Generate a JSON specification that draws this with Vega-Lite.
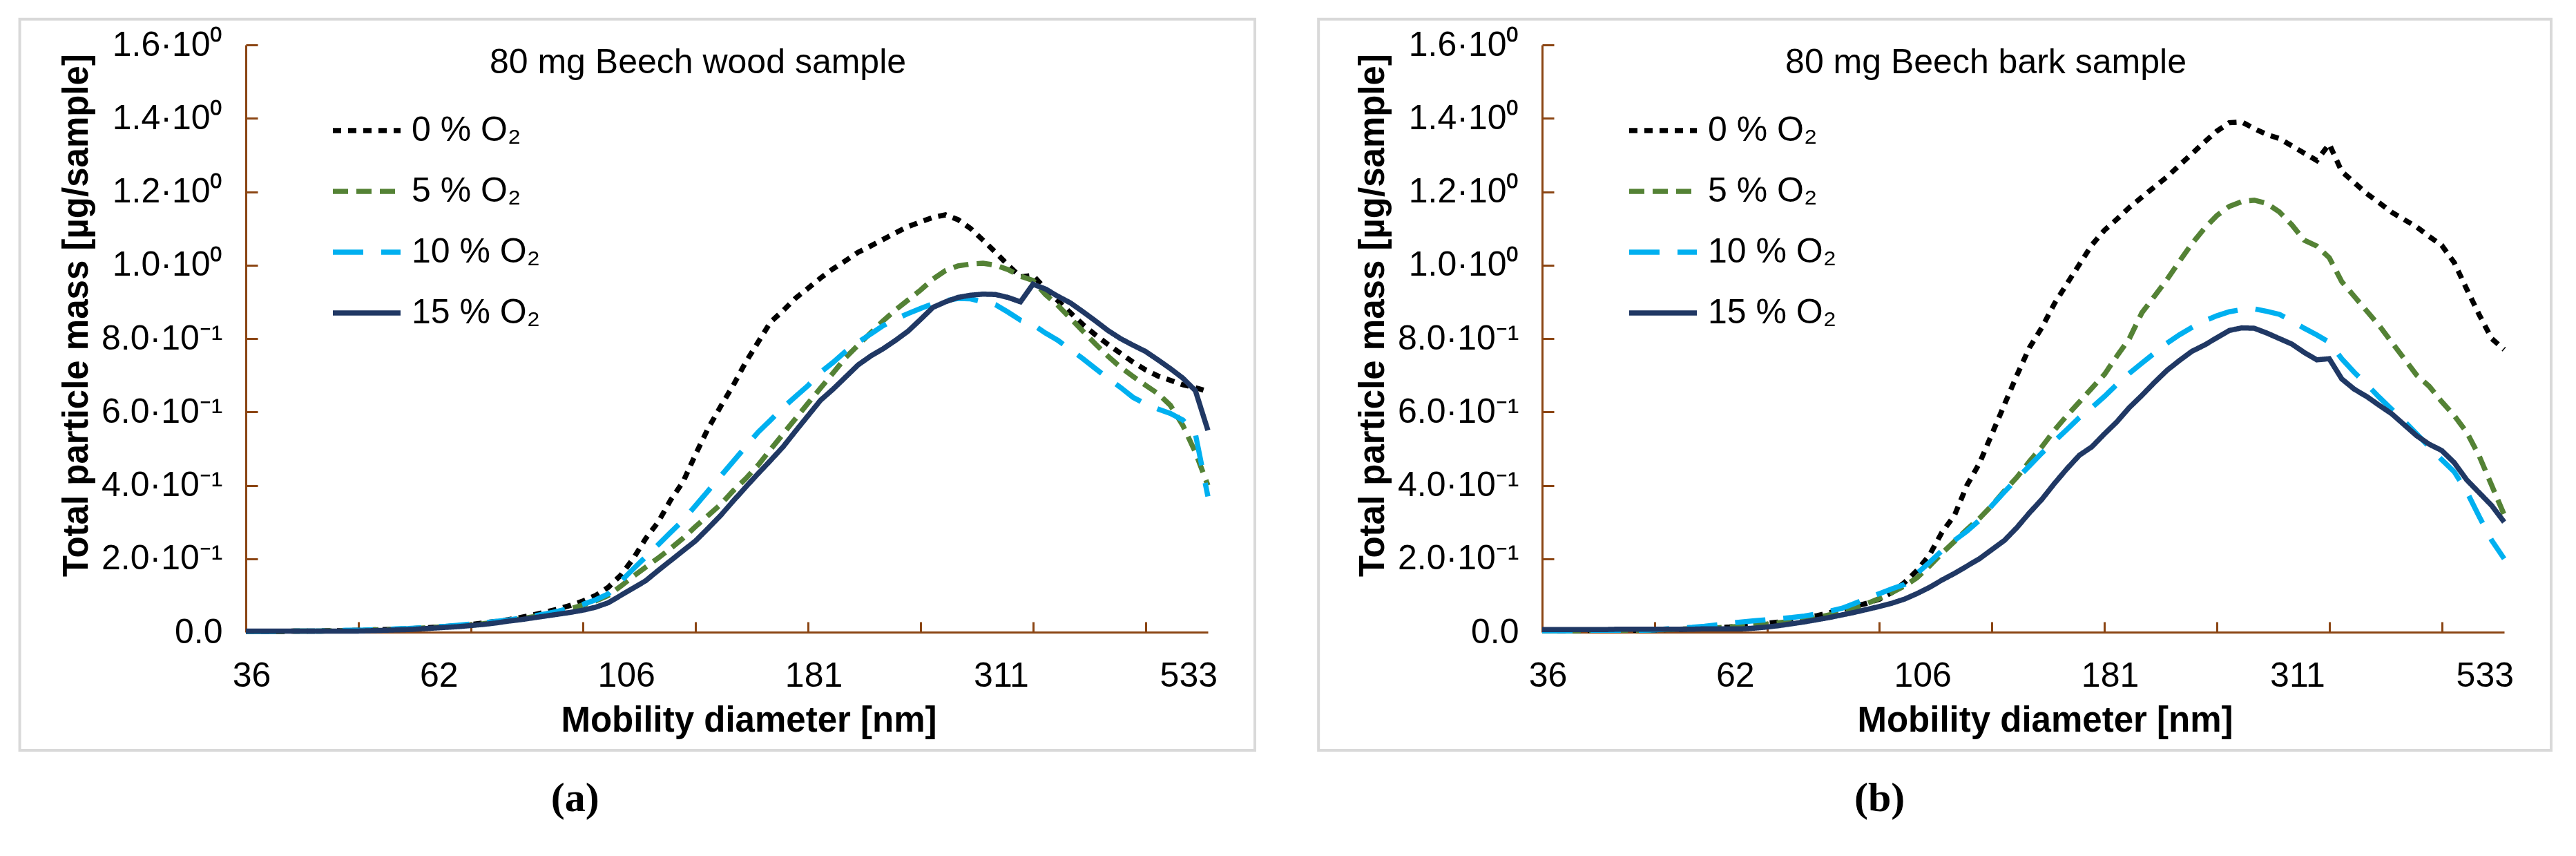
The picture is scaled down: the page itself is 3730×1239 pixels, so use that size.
{
  "$schema": "https://vega.github.io/schema/vega-lite/v6.json",
  "background": "white",
  "padding": {"left": 26, "top": 25, "right": 0, "bottom": 0},
  "config": {
    "font": "Liberation Sans",
    "view": {"stroke": null},
    "concat": {"spacing": 87},
    "axis": {
      "grid": false,
      "domainColor": "#8B4513",
      "domainWidth": 3,
      "tickColor": "#8B4513",
      "tickWidth": 3,
      "labelColor": "black",
      "labelFontSize": 50,
      "labelFlush": false,
      "labelOverlap": false,
      "titleColor": "black",
      "titleFontSize": 51,
      "titleFontWeight": "bold"
    },
    "legend": {
      "orient": "none",
      "legendX": 122,
      "legendY": 71,
      "padding": 0,
      "symbolType": "stroke",
      "symbolSize": 9604,
      "symbolStrokeWidth": 7.5,
      "labelFontSize": 50,
      "labelColor": "black",
      "labelOffset": 12,
      "labelLimit": 0,
      "rowPadding": 10
    }
  },
  "datasets": {
    "wood": [
      {"s":0,"i":0,"v":0.002},{"s":0,"i":1,"v":0.002},{"s":0,"i":2,"v":0.002},{"s":0,"i":3,"v":0.002},{"s":0,"i":4,"v":0.003},{"s":0,"i":5,"v":0.003},{"s":0,"i":6,"v":0.003},{"s":0,"i":7,"v":0.004},{"s":0,"i":8,"v":0.004},{"s":0,"i":9,"v":0.005},
      {"s":0,"i":10,"v":0.006},{"s":0,"i":11,"v":0.007},{"s":0,"i":12,"v":0.008},{"s":0,"i":13,"v":0.009},{"s":0,"i":14,"v":0.011},{"s":0,"i":15,"v":0.013},{"s":0,"i":16,"v":0.015},{"s":0,"i":17,"v":0.018},{"s":0,"i":18,"v":0.021},{"s":0,"i":19,"v":0.025},
      {"s":0,"i":20,"v":0.029},{"s":0,"i":21,"v":0.034},{"s":0,"i":22,"v":0.040},{"s":0,"i":23,"v":0.047},{"s":0,"i":24,"v":0.055},{"s":0,"i":25,"v":0.063},{"s":0,"i":26,"v":0.073},{"s":0,"i":27,"v":0.085},{"s":0,"i":28,"v":0.100},{"s":0,"i":29,"v":0.122},
      {"s":0,"i":30,"v":0.155},{"s":0,"i":31,"v":0.200},{"s":0,"i":32,"v":0.255},{"s":0,"i":33,"v":0.300},{"s":0,"i":34,"v":0.360},{"s":0,"i":35,"v":0.410},{"s":0,"i":36,"v":0.485},{"s":0,"i":37,"v":0.555},{"s":0,"i":38,"v":0.615},{"s":0,"i":39,"v":0.672},
      {"s":0,"i":40,"v":0.735},{"s":0,"i":41,"v":0.790},{"s":0,"i":42,"v":0.845},{"s":0,"i":43,"v":0.876},{"s":0,"i":44,"v":0.910},{"s":0,"i":45,"v":0.937},{"s":0,"i":46,"v":0.965},{"s":0,"i":47,"v":0.990},{"s":0,"i":48,"v":1.012},{"s":0,"i":49,"v":1.035},
      {"s":0,"i":50,"v":1.052},{"s":0,"i":51,"v":1.070},{"s":0,"i":52,"v":1.088},{"s":0,"i":53,"v":1.105},{"s":0,"i":54,"v":1.118},{"s":0,"i":55,"v":1.130},{"s":0,"i":56,"v":1.137},{"s":0,"i":57,"v":1.124},{"s":0,"i":58,"v":1.100},{"s":0,"i":59,"v":1.068},
      {"s":0,"i":60,"v":1.035},{"s":0,"i":61,"v":1.000},{"s":0,"i":62,"v":0.968},{"s":0,"i":63,"v":0.972},{"s":0,"i":64,"v":0.935},{"s":0,"i":65,"v":0.903},{"s":0,"i":66,"v":0.870},{"s":0,"i":67,"v":0.838},{"s":0,"i":68,"v":0.810},{"s":0,"i":69,"v":0.784},
      {"s":0,"i":70,"v":0.760},{"s":0,"i":71,"v":0.736},{"s":0,"i":72,"v":0.715},{"s":0,"i":73,"v":0.698},{"s":0,"i":74,"v":0.686},{"s":0,"i":75,"v":0.674},{"s":0,"i":76,"v":0.666},{"s":0,"i":77,"v":0.656},

      {"s":5,"i":0,"v":0.002},{"s":5,"i":1,"v":0.002},{"s":5,"i":2,"v":0.002},{"s":5,"i":3,"v":0.002},{"s":5,"i":4,"v":0.003},{"s":5,"i":5,"v":0.003},{"s":5,"i":6,"v":0.003},{"s":5,"i":7,"v":0.004},{"s":5,"i":8,"v":0.004},{"s":5,"i":9,"v":0.005},
      {"s":5,"i":10,"v":0.006},{"s":5,"i":11,"v":0.007},{"s":5,"i":12,"v":0.008},{"s":5,"i":13,"v":0.009},{"s":5,"i":14,"v":0.011},{"s":5,"i":15,"v":0.013},{"s":5,"i":16,"v":0.015},{"s":5,"i":17,"v":0.017},{"s":5,"i":18,"v":0.020},{"s":5,"i":19,"v":0.023},
      {"s":5,"i":20,"v":0.027},{"s":5,"i":21,"v":0.031},{"s":5,"i":22,"v":0.036},{"s":5,"i":23,"v":0.042},{"s":5,"i":24,"v":0.049},{"s":5,"i":25,"v":0.056},{"s":5,"i":26,"v":0.064},{"s":5,"i":27,"v":0.074},{"s":5,"i":28,"v":0.085},{"s":5,"i":29,"v":0.100},
      {"s":5,"i":30,"v":0.125},{"s":5,"i":31,"v":0.152},{"s":5,"i":32,"v":0.177},{"s":5,"i":33,"v":0.202},{"s":5,"i":34,"v":0.228},{"s":5,"i":35,"v":0.256},{"s":5,"i":36,"v":0.288},{"s":5,"i":37,"v":0.318},{"s":5,"i":38,"v":0.348},{"s":5,"i":39,"v":0.385},
      {"s":5,"i":40,"v":0.418},{"s":5,"i":41,"v":0.455},{"s":5,"i":42,"v":0.498},{"s":5,"i":43,"v":0.540},{"s":5,"i":44,"v":0.582},{"s":5,"i":45,"v":0.624},{"s":5,"i":46,"v":0.665},{"s":5,"i":47,"v":0.706},{"s":5,"i":48,"v":0.748},{"s":5,"i":49,"v":0.782},
      {"s":5,"i":50,"v":0.815},{"s":5,"i":51,"v":0.848},{"s":5,"i":52,"v":0.878},{"s":5,"i":53,"v":0.905},{"s":5,"i":54,"v":0.932},{"s":5,"i":55,"v":0.962},{"s":5,"i":56,"v":0.985},{"s":5,"i":57,"v":0.998},{"s":5,"i":58,"v":1.003},{"s":5,"i":59,"v":1.005},
      {"s":5,"i":60,"v":1.000},{"s":5,"i":61,"v":0.988},{"s":5,"i":62,"v":0.970},{"s":5,"i":63,"v":0.958},{"s":5,"i":64,"v":0.920},{"s":5,"i":65,"v":0.890},{"s":5,"i":66,"v":0.855},{"s":5,"i":67,"v":0.820},{"s":5,"i":68,"v":0.785},{"s":5,"i":69,"v":0.752},
      {"s":5,"i":70,"v":0.722},{"s":5,"i":71,"v":0.697},{"s":5,"i":72,"v":0.673},{"s":5,"i":73,"v":0.650},{"s":5,"i":74,"v":0.618},{"s":5,"i":75,"v":0.563},{"s":5,"i":76,"v":0.490},{"s":5,"i":77,"v":0.400},

      {"s":10,"i":0,"v":0.002},{"s":10,"i":1,"v":0.002},{"s":10,"i":2,"v":0.002},{"s":10,"i":3,"v":0.002},{"s":10,"i":4,"v":0.003},{"s":10,"i":5,"v":0.003},{"s":10,"i":6,"v":0.003},{"s":10,"i":7,"v":0.004},{"s":10,"i":8,"v":0.005},{"s":10,"i":9,"v":0.005},
      {"s":10,"i":10,"v":0.006},{"s":10,"i":11,"v":0.007},{"s":10,"i":12,"v":0.009},{"s":10,"i":13,"v":0.010},{"s":10,"i":14,"v":0.012},{"s":10,"i":15,"v":0.014},{"s":10,"i":16,"v":0.016},{"s":10,"i":17,"v":0.019},{"s":10,"i":18,"v":0.022},{"s":10,"i":19,"v":0.025},
      {"s":10,"i":20,"v":0.029},{"s":10,"i":21,"v":0.033},{"s":10,"i":22,"v":0.038},{"s":10,"i":23,"v":0.044},{"s":10,"i":24,"v":0.050},{"s":10,"i":25,"v":0.057},{"s":10,"i":26,"v":0.066},{"s":10,"i":27,"v":0.076},{"s":10,"i":28,"v":0.088},{"s":10,"i":29,"v":0.104},
      {"s":10,"i":30,"v":0.138},{"s":10,"i":31,"v":0.172},{"s":10,"i":32,"v":0.205},{"s":10,"i":33,"v":0.238},{"s":10,"i":34,"v":0.272},{"s":10,"i":35,"v":0.305},{"s":10,"i":36,"v":0.345},{"s":10,"i":37,"v":0.385},{"s":10,"i":38,"v":0.425},{"s":10,"i":39,"v":0.465},
      {"s":10,"i":40,"v":0.505},{"s":10,"i":41,"v":0.545},{"s":10,"i":42,"v":0.578},{"s":10,"i":43,"v":0.612},{"s":10,"i":44,"v":0.642},{"s":10,"i":45,"v":0.672},{"s":10,"i":46,"v":0.708},{"s":10,"i":47,"v":0.735},{"s":10,"i":48,"v":0.765},{"s":10,"i":49,"v":0.790},
      {"s":10,"i":50,"v":0.812},{"s":10,"i":51,"v":0.835},{"s":10,"i":52,"v":0.853},{"s":10,"i":53,"v":0.868},{"s":10,"i":54,"v":0.882},{"s":10,"i":55,"v":0.895},{"s":10,"i":56,"v":0.903},{"s":10,"i":57,"v":0.909},{"s":10,"i":58,"v":0.908},{"s":10,"i":59,"v":0.900},
      {"s":10,"i":60,"v":0.892},{"s":10,"i":61,"v":0.872},{"s":10,"i":62,"v":0.850},{"s":10,"i":63,"v":0.838},{"s":10,"i":64,"v":0.815},{"s":10,"i":65,"v":0.795},{"s":10,"i":66,"v":0.770},{"s":10,"i":67,"v":0.745},{"s":10,"i":68,"v":0.718},{"s":10,"i":69,"v":0.692},
      {"s":10,"i":70,"v":0.667},{"s":10,"i":71,"v":0.640},{"s":10,"i":72,"v":0.622},{"s":10,"i":73,"v":0.608},{"s":10,"i":74,"v":0.596},{"s":10,"i":75,"v":0.578},{"s":10,"i":76,"v":0.540},{"s":10,"i":77,"v":0.370},

      {"s":15,"i":0,"v":0.003},{"s":15,"i":1,"v":0.003},{"s":15,"i":2,"v":0.003},{"s":15,"i":3,"v":0.003},{"s":15,"i":4,"v":0.003},{"s":15,"i":5,"v":0.003},{"s":15,"i":6,"v":0.003},{"s":15,"i":7,"v":0.003},{"s":15,"i":8,"v":0.003},{"s":15,"i":9,"v":0.003},
      {"s":15,"i":10,"v":0.004},{"s":15,"i":11,"v":0.005},{"s":15,"i":12,"v":0.006},{"s":15,"i":13,"v":0.007},{"s":15,"i":14,"v":0.009},{"s":15,"i":15,"v":0.011},{"s":15,"i":16,"v":0.013},{"s":15,"i":17,"v":0.015},{"s":15,"i":18,"v":0.018},{"s":15,"i":19,"v":0.021},
      {"s":15,"i":20,"v":0.025},{"s":15,"i":21,"v":0.030},{"s":15,"i":22,"v":0.034},{"s":15,"i":23,"v":0.039},{"s":15,"i":24,"v":0.044},{"s":15,"i":25,"v":0.049},{"s":15,"i":26,"v":0.054},{"s":15,"i":27,"v":0.060},{"s":15,"i":28,"v":0.068},{"s":15,"i":29,"v":0.080},
      {"s":15,"i":30,"v":0.100},{"s":15,"i":31,"v":0.120},{"s":15,"i":32,"v":0.140},{"s":15,"i":33,"v":0.168},{"s":15,"i":34,"v":0.195},{"s":15,"i":35,"v":0.222},{"s":15,"i":36,"v":0.249},{"s":15,"i":37,"v":0.283},{"s":15,"i":38,"v":0.318},{"s":15,"i":39,"v":0.357},
      {"s":15,"i":40,"v":0.395},{"s":15,"i":41,"v":0.432},{"s":15,"i":42,"v":0.468},{"s":15,"i":43,"v":0.505},{"s":15,"i":44,"v":0.548},{"s":15,"i":45,"v":0.590},{"s":15,"i":46,"v":0.632},{"s":15,"i":47,"v":0.662},{"s":15,"i":48,"v":0.695},{"s":15,"i":49,"v":0.728},
      {"s":15,"i":50,"v":0.752},{"s":15,"i":51,"v":0.772},{"s":15,"i":52,"v":0.795},{"s":15,"i":53,"v":0.820},{"s":15,"i":54,"v":0.852},{"s":15,"i":55,"v":0.885},{"s":15,"i":56,"v":0.900},{"s":15,"i":57,"v":0.912},{"s":15,"i":58,"v":0.918},{"s":15,"i":59,"v":0.921},
      {"s":15,"i":60,"v":0.920},{"s":15,"i":61,"v":0.912},{"s":15,"i":62,"v":0.900},{"s":15,"i":63,"v":0.948},{"s":15,"i":64,"v":0.935},{"s":15,"i":65,"v":0.915},{"s":15,"i":66,"v":0.897},{"s":15,"i":67,"v":0.873},{"s":15,"i":68,"v":0.848},{"s":15,"i":69,"v":0.822},
      {"s":15,"i":70,"v":0.800},{"s":15,"i":71,"v":0.782},{"s":15,"i":72,"v":0.765},{"s":15,"i":73,"v":0.742},{"s":15,"i":74,"v":0.718},{"s":15,"i":75,"v":0.692},{"s":15,"i":76,"v":0.658},{"s":15,"i":77,"v":0.550}
    ],
    "bark": [
      {"s":0,"i":0,"v":0.004},{"s":0,"i":1,"v":0.004},{"s":0,"i":2,"v":0.004},{"s":0,"i":3,"v":0.004},{"s":0,"i":4,"v":0.005},{"s":0,"i":5,"v":0.005},{"s":0,"i":6,"v":0.005},{"s":0,"i":7,"v":0.005},{"s":0,"i":8,"v":0.005},{"s":0,"i":9,"v":0.006},
      {"s":0,"i":10,"v":0.007},{"s":0,"i":11,"v":0.008},{"s":0,"i":12,"v":0.009},{"s":0,"i":13,"v":0.010},{"s":0,"i":14,"v":0.012},{"s":0,"i":15,"v":0.014},{"s":0,"i":16,"v":0.017},{"s":0,"i":17,"v":0.020},{"s":0,"i":18,"v":0.024},{"s":0,"i":19,"v":0.028},
      {"s":0,"i":20,"v":0.033},{"s":0,"i":21,"v":0.038},{"s":0,"i":22,"v":0.045},{"s":0,"i":23,"v":0.053},{"s":0,"i":24,"v":0.062},{"s":0,"i":25,"v":0.070},{"s":0,"i":26,"v":0.079},{"s":0,"i":27,"v":0.090},{"s":0,"i":28,"v":0.108},{"s":0,"i":29,"v":0.135},
      {"s":0,"i":30,"v":0.168},{"s":0,"i":31,"v":0.210},{"s":0,"i":32,"v":0.272},{"s":0,"i":33,"v":0.318},{"s":0,"i":34,"v":0.400},{"s":0,"i":35,"v":0.460},{"s":0,"i":36,"v":0.540},{"s":0,"i":37,"v":0.620},{"s":0,"i":38,"v":0.700},{"s":0,"i":39,"v":0.775},
      {"s":0,"i":40,"v":0.830},{"s":0,"i":41,"v":0.895},{"s":0,"i":42,"v":0.949},{"s":0,"i":43,"v":1.002},{"s":0,"i":44,"v":1.055},{"s":0,"i":45,"v":1.095},{"s":0,"i":46,"v":1.125},{"s":0,"i":47,"v":1.157},{"s":0,"i":48,"v":1.185},{"s":0,"i":49,"v":1.213},
      {"s":0,"i":50,"v":1.240},{"s":0,"i":51,"v":1.272},{"s":0,"i":52,"v":1.303},{"s":0,"i":53,"v":1.335},{"s":0,"i":54,"v":1.365},{"s":0,"i":55,"v":1.388},{"s":0,"i":56,"v":1.390},{"s":0,"i":57,"v":1.372},{"s":0,"i":58,"v":1.356},{"s":0,"i":59,"v":1.345},
      {"s":0,"i":60,"v":1.325},{"s":0,"i":61,"v":1.305},{"s":0,"i":62,"v":1.285},{"s":0,"i":63,"v":1.330},{"s":0,"i":64,"v":1.255},{"s":0,"i":65,"v":1.225},{"s":0,"i":66,"v":1.195},{"s":0,"i":67,"v":1.170},{"s":0,"i":68,"v":1.144},{"s":0,"i":69,"v":1.124},
      {"s":0,"i":70,"v":1.104},{"s":0,"i":71,"v":1.078},{"s":0,"i":72,"v":1.054},{"s":0,"i":73,"v":1.007},{"s":0,"i":74,"v":0.935},{"s":0,"i":75,"v":0.865},{"s":0,"i":76,"v":0.800},{"s":0,"i":77,"v":0.770},

      {"s":5,"i":0,"v":0.004},{"s":5,"i":1,"v":0.004},{"s":5,"i":2,"v":0.004},{"s":5,"i":3,"v":0.004},{"s":5,"i":4,"v":0.005},{"s":5,"i":5,"v":0.005},{"s":5,"i":6,"v":0.005},{"s":5,"i":7,"v":0.005},{"s":5,"i":8,"v":0.005},{"s":5,"i":9,"v":0.006},
      {"s":5,"i":10,"v":0.007},{"s":5,"i":11,"v":0.008},{"s":5,"i":12,"v":0.009},{"s":5,"i":13,"v":0.010},{"s":5,"i":14,"v":0.012},{"s":5,"i":15,"v":0.014},{"s":5,"i":16,"v":0.016},{"s":5,"i":17,"v":0.019},{"s":5,"i":18,"v":0.022},{"s":5,"i":19,"v":0.026},
      {"s":5,"i":20,"v":0.030},{"s":5,"i":21,"v":0.035},{"s":5,"i":22,"v":0.040},{"s":5,"i":23,"v":0.047},{"s":5,"i":24,"v":0.058},{"s":5,"i":25,"v":0.066},{"s":5,"i":26,"v":0.078},{"s":5,"i":27,"v":0.092},{"s":5,"i":28,"v":0.108},{"s":5,"i":29,"v":0.126},
      {"s":5,"i":30,"v":0.148},{"s":5,"i":31,"v":0.180},{"s":5,"i":32,"v":0.215},{"s":5,"i":33,"v":0.247},{"s":5,"i":34,"v":0.280},{"s":5,"i":35,"v":0.310},{"s":5,"i":36,"v":0.345},{"s":5,"i":37,"v":0.385},{"s":5,"i":38,"v":0.422},{"s":5,"i":39,"v":0.465},
      {"s":5,"i":40,"v":0.505},{"s":5,"i":41,"v":0.550},{"s":5,"i":42,"v":0.590},{"s":5,"i":43,"v":0.627},{"s":5,"i":44,"v":0.665},{"s":5,"i":45,"v":0.702},{"s":5,"i":46,"v":0.752},{"s":5,"i":47,"v":0.800},{"s":5,"i":48,"v":0.870},{"s":5,"i":49,"v":0.915},
      {"s":5,"i":50,"v":0.960},{"s":5,"i":51,"v":1.010},{"s":5,"i":52,"v":1.058},{"s":5,"i":53,"v":1.100},{"s":5,"i":54,"v":1.135},{"s":5,"i":55,"v":1.160},{"s":5,"i":56,"v":1.173},{"s":5,"i":57,"v":1.177},{"s":5,"i":58,"v":1.168},{"s":5,"i":59,"v":1.145},
      {"s":5,"i":60,"v":1.110},{"s":5,"i":61,"v":1.068},{"s":5,"i":62,"v":1.052},{"s":5,"i":63,"v":1.020},{"s":5,"i":64,"v":0.955},{"s":5,"i":65,"v":0.915},{"s":5,"i":66,"v":0.875},{"s":5,"i":67,"v":0.835},{"s":5,"i":68,"v":0.790},{"s":5,"i":69,"v":0.745},
      {"s":5,"i":70,"v":0.700},{"s":5,"i":71,"v":0.670},{"s":5,"i":72,"v":0.628},{"s":5,"i":73,"v":0.590},{"s":5,"i":74,"v":0.545},{"s":5,"i":75,"v":0.480},{"s":5,"i":76,"v":0.400},{"s":5,"i":77,"v":0.320},

      {"s":10,"i":0,"v":0.004},{"s":10,"i":1,"v":0.004},{"s":10,"i":2,"v":0.004},{"s":10,"i":3,"v":0.004},{"s":10,"i":4,"v":0.005},{"s":10,"i":5,"v":0.005},{"s":10,"i":6,"v":0.005},{"s":10,"i":7,"v":0.005},{"s":10,"i":8,"v":0.005},{"s":10,"i":9,"v":0.006},
      {"s":10,"i":10,"v":0.009},{"s":10,"i":11,"v":0.011},{"s":10,"i":12,"v":0.013},{"s":10,"i":13,"v":0.016},{"s":10,"i":14,"v":0.020},{"s":10,"i":15,"v":0.024},{"s":10,"i":16,"v":0.028},{"s":10,"i":17,"v":0.031},{"s":10,"i":18,"v":0.034},{"s":10,"i":19,"v":0.037},
      {"s":10,"i":20,"v":0.040},{"s":10,"i":21,"v":0.044},{"s":10,"i":22,"v":0.050},{"s":10,"i":23,"v":0.057},{"s":10,"i":24,"v":0.065},{"s":10,"i":25,"v":0.078},{"s":10,"i":26,"v":0.092},{"s":10,"i":27,"v":0.105},{"s":10,"i":28,"v":0.118},{"s":10,"i":29,"v":0.130},
      {"s":10,"i":30,"v":0.160},{"s":10,"i":31,"v":0.190},{"s":10,"i":32,"v":0.222},{"s":10,"i":33,"v":0.250},{"s":10,"i":34,"v":0.275},{"s":10,"i":35,"v":0.305},{"s":10,"i":36,"v":0.345},{"s":10,"i":37,"v":0.382},{"s":10,"i":38,"v":0.418},{"s":10,"i":39,"v":0.453},
      {"s":10,"i":40,"v":0.488},{"s":10,"i":41,"v":0.520},{"s":10,"i":42,"v":0.552},{"s":10,"i":43,"v":0.585},{"s":10,"i":44,"v":0.612},{"s":10,"i":45,"v":0.642},{"s":10,"i":46,"v":0.675},{"s":10,"i":47,"v":0.705},{"s":10,"i":48,"v":0.733},{"s":10,"i":49,"v":0.760},
      {"s":10,"i":50,"v":0.787},{"s":10,"i":51,"v":0.810},{"s":10,"i":52,"v":0.830},{"s":10,"i":53,"v":0.848},{"s":10,"i":54,"v":0.862},{"s":10,"i":55,"v":0.873},{"s":10,"i":56,"v":0.879},{"s":10,"i":57,"v":0.881},{"s":10,"i":58,"v":0.874},{"s":10,"i":59,"v":0.866},
      {"s":10,"i":60,"v":0.848},{"s":10,"i":61,"v":0.828},{"s":10,"i":62,"v":0.810},{"s":10,"i":63,"v":0.790},{"s":10,"i":64,"v":0.745},{"s":10,"i":65,"v":0.708},{"s":10,"i":66,"v":0.675},{"s":10,"i":67,"v":0.640},{"s":10,"i":68,"v":0.607},{"s":10,"i":69,"v":0.575},
      {"s":10,"i":70,"v":0.540},{"s":10,"i":71,"v":0.505},{"s":10,"i":72,"v":0.470},{"s":10,"i":73,"v":0.437},{"s":10,"i":74,"v":0.383},{"s":10,"i":75,"v":0.315},{"s":10,"i":76,"v":0.250},{"s":10,"i":77,"v":0.200},

      {"s":15,"i":0,"v":0.007},{"s":15,"i":1,"v":0.007},{"s":15,"i":2,"v":0.007},{"s":15,"i":3,"v":0.007},{"s":15,"i":4,"v":0.007},{"s":15,"i":5,"v":0.007},{"s":15,"i":6,"v":0.008},{"s":15,"i":7,"v":0.008},{"s":15,"i":8,"v":0.008},{"s":15,"i":9,"v":0.008},
      {"s":15,"i":10,"v":0.008},{"s":15,"i":11,"v":0.008},{"s":15,"i":12,"v":0.008},{"s":15,"i":13,"v":0.009},{"s":15,"i":14,"v":0.009},{"s":15,"i":15,"v":0.009},{"s":15,"i":16,"v":0.009},{"s":15,"i":17,"v":0.011},{"s":15,"i":18,"v":0.014},{"s":15,"i":19,"v":0.018},
      {"s":15,"i":20,"v":0.023},{"s":15,"i":21,"v":0.028},{"s":15,"i":22,"v":0.034},{"s":15,"i":23,"v":0.040},{"s":15,"i":24,"v":0.047},{"s":15,"i":25,"v":0.054},{"s":15,"i":26,"v":0.062},{"s":15,"i":27,"v":0.070},{"s":15,"i":28,"v":0.079},{"s":15,"i":29,"v":0.090},
      {"s":15,"i":30,"v":0.105},{"s":15,"i":31,"v":0.122},{"s":15,"i":32,"v":0.142},{"s":15,"i":33,"v":0.160},{"s":15,"i":34,"v":0.180},{"s":15,"i":35,"v":0.200},{"s":15,"i":36,"v":0.225},{"s":15,"i":37,"v":0.250},{"s":15,"i":38,"v":0.285},{"s":15,"i":39,"v":0.325},
      {"s":15,"i":40,"v":0.362},{"s":15,"i":41,"v":0.405},{"s":15,"i":42,"v":0.445},{"s":15,"i":43,"v":0.482},{"s":15,"i":44,"v":0.505},{"s":15,"i":45,"v":0.540},{"s":15,"i":46,"v":0.573},{"s":15,"i":47,"v":0.612},{"s":15,"i":48,"v":0.645},{"s":15,"i":49,"v":0.680},
      {"s":15,"i":50,"v":0.713},{"s":15,"i":51,"v":0.740},{"s":15,"i":52,"v":0.765},{"s":15,"i":53,"v":0.782},{"s":15,"i":54,"v":0.802},{"s":15,"i":55,"v":0.822},{"s":15,"i":56,"v":0.829},{"s":15,"i":57,"v":0.828},{"s":15,"i":58,"v":0.815},{"s":15,"i":59,"v":0.800},
      {"s":15,"i":60,"v":0.785},{"s":15,"i":61,"v":0.762},{"s":15,"i":62,"v":0.742},{"s":15,"i":63,"v":0.745},{"s":15,"i":64,"v":0.690},{"s":15,"i":65,"v":0.662},{"s":15,"i":66,"v":0.642},{"s":15,"i":67,"v":0.618},{"s":15,"i":68,"v":0.595},{"s":15,"i":69,"v":0.565},
      {"s":15,"i":70,"v":0.535},{"s":15,"i":71,"v":0.512},{"s":15,"i":72,"v":0.495},{"s":15,"i":73,"v":0.462},{"s":15,"i":74,"v":0.415},{"s":15,"i":75,"v":0.380},{"s":15,"i":76,"v":0.345},{"s":15,"i":77,"v":0.300}
    ]
  },
  "hconcat": [
    {
      "title": {"text": "(a)", "orient": "bottom", "anchor": "middle", "dx": -90, "offset": 39, "font": "Liberation Serif", "fontSize": 60, "fontWeight": "bold", "color": "black"},
      "vconcat": [
        {
          "width": 1393,
          "height": 850,
          "resolve": {"axis": {"x": "independent"}},
          "layer": [
            {
              "data": {"name": "wood"},
              "mark": {"type": "line", "strokeWidth": 7.5},
              "encoding": {
                "x": {
                  "field": "i", "type": "quantitative",
                  "scale": {"domain": [0, 77], "nice": false, "zero": false},
                  "axis": {
                    "orient": "bottom",
                    "title": "Mobility diameter [nm]",
                    "values": [0, 9, 15, 18, 27, 30, 36, 45, 54, 60, 63, 72, 75],
                    "labelExpr": "datum.value == 0 ? '36' : datum.value == 15 ? '62' : datum.value == 30 ? '106' : datum.value == 45 ? '181' : datum.value == 60 ? '311' : datum.value == 75 ? '533' : ''",
                    "tickOpacity": {"condition": {"test": "datum.value > 0 && datum.value % 9 == 0", "value": 1}, "value": 0},
                    "tickSize": -15,
                    "labelPadding": 53,
                    "labelOffset": 8,
                    "titlePadding": 15,
                    "titleX": 728
                  }
                },
                "y": {
                  "field": "v", "type": "quantitative",
                  "scale": {"domain": [0, 1.6], "nice": false},
                  "axis": {
                    "title": "Total particle mass [µg/sample]",
                    "values": [0, 0.2, 0.4, 0.6, 0.8, 1.0, 1.2, 1.4, 1.6],
                    "labelExpr": "datum.value == 0 ? '0.0' : datum.value > 0.99 ? format(datum.value, '.1f') + '·10⁰' : format(datum.value * 10, '.1f') + '·10⁻¹'",
                    "tickSize": -17,
                    "labelPadding": 51,
                    "titlePadding": 19,
                    "titleY": 391
                  }
                },
                "color": {
                  "field": "s", "type": "nominal",
                  "scale": {"domain": [0, 5, 10, 15], "range": ["#000000", "#548235", "#00B0F0", "#203864"]},
                  "legend": {"title": null, "labelExpr": "datum.label + ' % O₂'"}
                },
                "strokeDash": {
                  "field": "s", "type": "nominal",
                  "scale": {"domain": [0, 5, 10, 15], "range": [[12, 10], [22, 12], [44, 26], [1, 0]]},
                  "legend": {"title": null, "labelExpr": "datum.label + ' % O₂'"}
                }
              }
            },
            {
              "data": {"values": [{}]},
              "mark": {"type": "rect", "fill": null, "stroke": "#D9D9D9", "strokeWidth": 4, "clip": false},
              "encoding": {
                "x": {
                  "datum": -18.1,
                  "axis": {"orient": "top", "title": "80 mg Beech wood sample", "domain": false, "ticks": false, "labels": false, "titleFontWeight": "normal", "titleFontSize": 50, "titleBaseline": "alphabetic", "titleX": 654, "titleY": 40}
                },
                "x2": {"datum": 80.76},
                "y": {"datum": 1.67},
                "y2": {"datum": -0.322}
              }
            }
          ]
        }
      ]
    },
    {
      "title": {"text": "(b)", "orient": "bottom", "anchor": "middle", "dx": -80, "offset": 39, "font": "Liberation Serif", "fontSize": 60, "fontWeight": "bold", "color": "black"},
      "vconcat": [
        {
          "width": 1393,
          "height": 850,
          "resolve": {"axis": {"x": "independent"}},
          "layer": [
            {
              "data": {"name": "bark"},
              "mark": {"type": "line", "strokeWidth": 7.5},
              "encoding": {
                "x": {
                  "field": "i", "type": "quantitative",
                  "scale": {"domain": [0, 77], "nice": false, "zero": false},
                  "axis": {
                    "orient": "bottom",
                    "title": "Mobility diameter [nm]",
                    "values": [0, 9, 15, 18, 27, 30, 36, 45, 54, 60, 63, 72, 75],
                    "labelExpr": "datum.value == 0 ? '36' : datum.value == 15 ? '62' : datum.value == 30 ? '106' : datum.value == 45 ? '181' : datum.value == 60 ? '311' : datum.value == 75 ? '533' : ''",
                    "tickOpacity": {"condition": {"test": "datum.value > 0 && datum.value % 9 == 0", "value": 1}, "value": 0},
                    "tickSize": -15,
                    "labelPadding": 53,
                    "labelOffset": 8,
                    "titlePadding": 15,
                    "titleX": 728
                  }
                },
                "y": {
                  "field": "v", "type": "quantitative",
                  "scale": {"domain": [0, 1.6], "nice": false},
                  "axis": {
                    "title": "Total particle mass [µg/sample]",
                    "values": [0, 0.2, 0.4, 0.6, 0.8, 1.0, 1.2, 1.4, 1.6],
                    "labelExpr": "datum.value == 0 ? '0.0' : datum.value > 0.99 ? format(datum.value, '.1f') + '·10⁰' : format(datum.value * 10, '.1f') + '·10⁻¹'",
                    "tickSize": -17,
                    "labelPadding": 51,
                    "titlePadding": 19,
                    "titleY": 391
                  }
                },
                "color": {
                  "field": "s", "type": "nominal",
                  "scale": {"domain": [0, 5, 10, 15], "range": ["#000000", "#548235", "#00B0F0", "#203864"]},
                  "legend": {"title": null, "labelExpr": "datum.label + ' % O₂'"}
                },
                "strokeDash": {
                  "field": "s", "type": "nominal",
                  "scale": {"domain": [0, 5, 10, 15], "range": [[12, 10], [22, 12], [44, 26], [1, 0]]},
                  "legend": {"title": null, "labelExpr": "datum.label + ' % O₂'"}
                }
              }
            },
            {
              "data": {"values": [{}]},
              "mark": {"type": "rect", "fill": null, "stroke": "#D9D9D9", "strokeWidth": 4, "clip": false},
              "encoding": {
                "x": {
                  "datum": -17.9,
                  "axis": {"orient": "top", "title": "80 mg Beech bark sample", "domain": false, "ticks": false, "labels": false, "titleFontWeight": "normal", "titleFontSize": 50, "titleBaseline": "alphabetic", "titleX": 642, "titleY": 40}
                },
                "x2": {"datum": 80.76},
                "y": {"datum": 1.67},
                "y2": {"datum": -0.322}
              }
            }
          ]
        }
      ]
    }
  ],
  "resolve": {"scale": {"color": "independent", "strokeDash": "independent"}}
}
